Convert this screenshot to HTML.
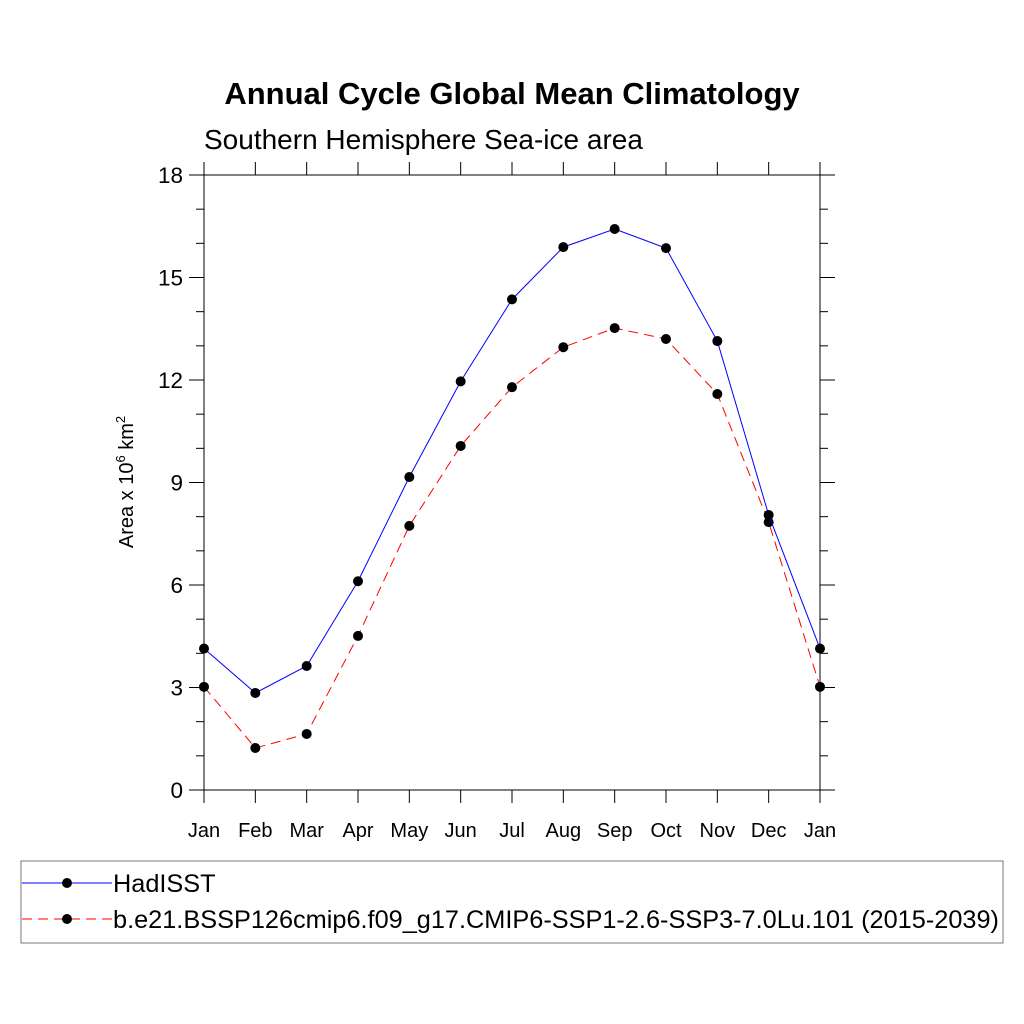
<!DOCTYPE html>
<html><head><meta charset="utf-8"><style>body{margin:0;background:#fff}svg{display:block}</style></head>
<body>
<svg id="chart" width="1024" height="1024" xmlns="http://www.w3.org/2000/svg" font-family="Liberation Sans, sans-serif">
<rect width="1024" height="1024" fill="#fff"/>
<text x="512" y="104" text-anchor="middle" font-size="31" font-weight="bold">Annual Cycle Global Mean Climatology</text>
<text x="204" y="149" font-size="28">Southern Hemisphere Sea-ice area</text>
<text transform="translate(133,482) rotate(-90)" text-anchor="middle" font-size="20">Area x 10<tspan dy="-8" font-size="13">6</tspan><tspan dy="8"> km</tspan><tspan dy="-8" font-size="13">2</tspan></text>
<g id="axes"></g>
<g id="series"></g>
<rect x="21" y="861" width="982" height="82" fill="none" stroke="#777" stroke-width="1"/>
<g>
<line x1="22" y1="883" x2="112" y2="883" stroke="#00f" stroke-width="1"/>
<circle cx="67" cy="883" r="5" fill="#000"/>
<text x="113" y="892" font-size="25.3">HadISST</text></g>
<g>
<line x1="22" y1="919" x2="112" y2="919" stroke="#f00" stroke-width="1" stroke-dasharray="10,6"/>
<circle cx="67" cy="919" r="5" fill="#000"/>
<text x="113" y="928" font-size="25.3">b.e21.BSSP126cmip6.f09_g17.CMIP6-SSP1-2.6-SSP3-7.0Lu.101 (2015-2039)</text></g>
</svg>
<script>
const months = ["Jan","Feb","Mar","Apr","May","Jun","Jul","Aug","Sep","Oct","Nov","Dec","Jan"];
const hadisst = [4.14,2.84,3.63,6.11,9.16,11.96,14.36,15.89,16.42,15.86,13.14,8.05,4.14];
const model = [3.02,1.23,1.64,4.51,7.73,10.07,11.79,12.96,13.52,13.2,11.59,7.84,3.02];
const yTicks = [0,3,6,9,12,15,18];
const NS="http://www.w3.org/2000/svg";
const X0=204,X1=820,Y0=790,Y1=175,YMAX=18;
const xs=i=>X0+(X1-X0)*i/(months.length-1);
const ys=v=>Y0-(Y0-Y1)*v/YMAX;
function mk(tag,attrs,parent){const e=document.createElementNS(NS,tag);for(const k in attrs)e.setAttribute(k,attrs[k]);parent.appendChild(e);return e;}
const ax=document.getElementById('axes');
const fr=mk('rect',{x:X0,y:Y1,width:X1-X0,height:Y0-Y1,fill:'none',stroke:'#000','stroke-width':1},ax);


for(let v=0;v<=YMAX;v++){const major=v%3===0;const L=major?15:8;const y=ys(v);
 mk('line',{x1:X0-L,y1:y,x2:X0,y2:y,stroke:'#000'},ax);
 mk('line',{x1:X1,y1:y,x2:X1+L,y2:y,stroke:'#000'},ax);}
yTicks.forEach(v=>{const t=mk('text',{x:X0-21,y:ys(v)+8,'text-anchor':'end','font-size':22.5},ax);t.textContent=v;
 
 });
months.forEach((m,i)=>{const x=xs(i);
 mk('line',{x1:x,y1:Y0,x2:x,y2:Y0+13,stroke:'#000'},ax);
 mk('line',{x1:x,y1:Y1-13,x2:x,y2:Y1,stroke:'#000'},ax);
 const t=mk('text',{x:x,y:Y0+47,'text-anchor':'middle','font-size':20},ax);t.textContent=m;
 
 });
const sg=document.getElementById('series');
function draw(vals,color,dash,name){
 const g=mk('g',{},sg);
 
 
 const p=mk('polyline',{points:vals.map((v,i)=>xs(i)+','+ys(v)).join(' '),fill:'none',stroke:color,'stroke-width':1},g);
 if(dash)p.setAttribute('stroke-dasharray',dash);
 vals.forEach((v,i)=>{const c=mk('circle',{cx:xs(i),cy:ys(v),r:5,fill:'#000'},g);
  
  });
}
draw(model,'#f00','10,6','series-model');
draw(hadisst,'#00f',null,'series-hadisst');
</script>
</body></html>
